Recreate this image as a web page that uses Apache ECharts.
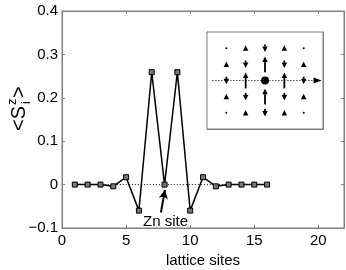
<!DOCTYPE html>
<html><head><meta charset="utf-8">
<script src="https://cdn.jsdelivr.net/npm/echarts@6/dist/echarts.min.js"></script>
<style>html,body{margin:0;padding:0;background:#fff}#c{width:346px;height:270px}</style>
</head><body><div id="c"></div>
<script>
// main chart data
const sites = [1,2,3,4,5,6,7,8,9,10,11,12,13,14,15,16];
const spinZ = [0,0,0,-0.004,0.017,-0.06,0.259,0,0.259,-0.06,0.017,-0.004,0,0,0,0];
const xTicks = [0,5,10,15,20];
const yTicks = [-0.1,0,0.1,0.2,0.3,0.4];
// annotation (data coords)
const znArrowFrom = [7.72,-0.064];
const znArrowTo = [8.03,-0.012];
const znLabelAt = [8.08,-0.085];
const znLabel = 'Zn site';
// inset: 5x5 lattice around Zn, spin values
const insetX = [-2,-1,0,1,2, -2,-1,0,1,2, -2,-1,1,2, -2,-1,0,1,2, -2,-1,0,1,2];
const insetY = [2,2,2,2,2, 1,1,1,1,1, 0,0,0,0, -1,-1,-1,-1,-1, -2,-2,-2,-2,-2];
const insetS = [0.002,0.017,-0.06,0.017,0.002,
                0.017,-0.06,0.259,-0.06,0.017,
                -0.06,0.259,0.259,-0.06,
                0.017,-0.06,0.259,-0.06,0.017,
                0.002,0.017,-0.06,0.017,0.002];
const insetTicks = [-1,1];

const FONT = "'Liberation Sans', Arial, sans-serif";
const AX = '#7f7f7f';
const chart = echarts.init(document.getElementById('c'), null, {renderer:'canvas'});

function fmtY(v){ if (Math.abs(v)<1e-9) return '0'; return v.toFixed(1).replace('-', '\u2212'); }

const mainAxisCommon = {
  axisLine:{show:true, onZero:false, lineStyle:{color:AX, width:1}},
  axisTick:{show:true, inside:true, length:3, lineStyle:{color:AX}},
  splitLine:{show:false}
};
const insetAxisCommon = {
  gridIndex:1, min:-3, max:3,
  axisLine:{show:true, onZero:false, lineStyle:{color:AX, width:1}},
  axisTick:{show:true, inside:true, length:2, customValues:insetTicks, lineStyle:{color:AX}},
  axisLabel:{show:false}, splitLine:{show:false}
};

const option = {
  animation:false,
  backgroundColor:'#fff',
  textStyle:{fontFamily:FONT},
  grid:[
    {left:62, right:2, top:11, bottom:42, containLabel:false, outerBoundsMode:'none',
     show:true, borderColor:AX, borderWidth:1, backgroundColor:'transparent'},
    {left:207, top:32, width:116, height:97, containLabel:false, outerBoundsMode:'none',
     show:true, backgroundColor:'#fff', borderColor:AX, borderWidth:1, z:5}
  ],
  xAxis:[
    Object.assign({}, mainAxisCommon, {type:'value', gridIndex:0, position:'bottom', min:0, max:22,
      axisTick:Object.assign({}, mainAxisCommon.axisTick, {customValues:xTicks}),
      axisLabel:{customValues:xTicks, color:'#000', fontSize:15, margin:5, fontFamily:FONT},
      name:'lattice sites', nameLocation:'middle', nameGap:25,
      nameTextStyle:{color:'#000', fontSize:15, fontFamily:FONT}}),
    Object.assign({}, mainAxisCommon, {type:'value', gridIndex:0, position:'top', min:0, max:22,
      axisTick:Object.assign({}, mainAxisCommon.axisTick, {customValues:xTicks}),
      axisLabel:{show:false}}),
    Object.assign({}, insetAxisCommon, {type:'value', position:'bottom'}),
    Object.assign({}, insetAxisCommon, {type:'value', position:'top'})
  ],
  yAxis:[
    Object.assign({}, mainAxisCommon, {type:'value', gridIndex:0, position:'left', min:-0.1, max:0.4,
      axisTick:Object.assign({}, mainAxisCommon.axisTick, {customValues:yTicks}),
      axisLabel:{customValues:yTicks, color:'#000', fontSize:15, margin:4, fontFamily:FONT, formatter:fmtY}}),
    Object.assign({}, mainAxisCommon, {type:'value', gridIndex:0, position:'right', min:-0.1, max:0.4,
      axisTick:Object.assign({}, mainAxisCommon.axisTick, {customValues:yTicks}),
      axisLabel:{show:false}}),
    Object.assign({}, insetAxisCommon, {type:'value', position:'left'}),
    Object.assign({}, insetAxisCommon, {type:'value', position:'right'})
  ],
  series:[
    { // dotted zero line
      type:'line', xAxisIndex:0, yAxisIndex:0, z:1,
      data:sites.map(x=>[x,0]), symbol:'none', silent:true,
      lineStyle:{color:'#000', width:1, type:[1,2]}
    },
    {
      type:'line', xAxisIndex:0, yAxisIndex:0, z:3,
      data:sites.map((x,i)=>[x, spinZ[i]]),
      symbol:'rect', symbolSize:5, showAllSymbol:true,
      lineStyle:{color:'#000', width:1.5},
      itemStyle:{color:'#777', borderColor:'#000', borderWidth:1},
      markLine:{
        silent:true, symbol:['none','arrow'], symbolSize:[7,9],
        lineStyle:{color:'#000', width:2, type:'solid'}, label:{show:false},
        data:[[{coord:znArrowFrom},{coord:znArrowTo}]]
      },
      markPoint:{
        silent:true, symbol:'circle', symbolSize:0,
        label:{show:true, position:'inside', formatter:znLabel, color:'#000', fontSize:15, fontFamily:FONT},
        data:[{coord:znLabelAt}]
      }
    },
    { // inset arrows
      type:'custom', xAxisIndex:2, yAxisIndex:2, z:10,
      data:insetX.map((x,i)=>[x, insetY[i], insetS[i]]),
      renderItem:function(params, api){
        const p = api.coord([api.value(0), api.value(1)]);
        const s = api.value(2);
        const a = Math.abs(s);
        if (a < 0.005) return {type:'circle', shape:{cx:p[0], cy:p[1], r:1}, style:{fill:'#000'}};
        const L = 5 + 42*a;
        const dir = s>0 ? -1 : 1;
        const tipY = p[1] + dir*L/2, tailY = p[1] - dir*L/2;
        const hh = Math.min(5.5, L), hw = 2.7;
        const baseY = tipY - dir*hh;
        const children = [];
        if (L > hh + 0.5) children.push({type:'line', shape:{x1:p[0], y1:tailY, x2:p[0], y2:baseY}, style:{stroke:'#000', lineWidth:1.8}});
        children.push({type:'polygon', shape:{points:[[p[0], tipY],[p[0]-hw, baseY],[p[0]+hw, baseY]]}, style:{fill:'#000'}});
        return {type:'group', children:children};
      }
    },
    { // inset Zn site + dotted cut line
      type:'scatter', xAxisIndex:2, yAxisIndex:2, z:10,
      data:[[0,0]], symbol:'circle', symbolSize:8, itemStyle:{color:'#000', opacity:1},
      markLine:{
        silent:true, symbol:['none','triangle'], symbolSize:[6,8],
        lineStyle:{color:'#000', width:1, type:[1,2]}, label:{show:false},
        data:[[{coord:[-2.72,0]},{coord:[2.72,0]}]]
      }
    }
  ],
  graphic:[{
    type:'group', x:19, y:110, rotation:Math.PI/2,
    children:[
      {type:'text', x:-21, y:0, style:{text:'<S', fontSize:20, fontFamily:FONT, fill:'#000', textAlign:'left', textVerticalAlign:'middle'}},
      {type:'text', x:5, y:-7, style:{text:'z', fontSize:13, fontFamily:FONT, fill:'#000', textAlign:'left', textVerticalAlign:'middle'}},
      {type:'text', x:6, y:7, style:{text:'i', fontSize:13, fontFamily:FONT, fill:'#000', textAlign:'left', textVerticalAlign:'middle'}},
      {type:'text', x:12, y:0, style:{text:'>', fontSize:20, fontFamily:FONT, fill:'#000', textAlign:'left', textVerticalAlign:'middle'}}
    ]
  }]
};
chart.setOption(option);
</script></body></html>
